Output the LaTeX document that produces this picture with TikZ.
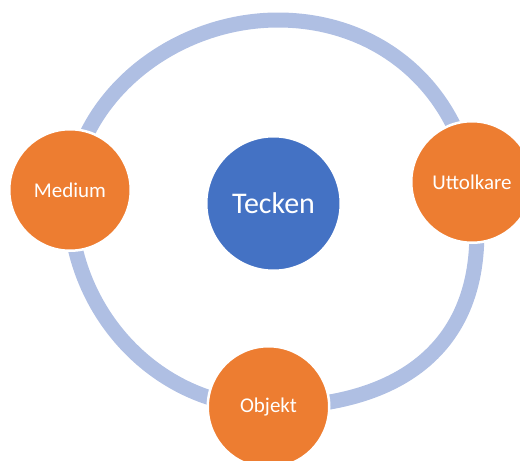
\documentclass[tikz,border=0pt]{standalone}
\usepackage{fontspec}
\setmainfont{Carlito}
\usetikzlibrary{backgrounds}
\definecolor{ringblue}{HTML}{AFBFE3}
\definecolor{accentorange}{HTML}{ED7D31}
\definecolor{accentblue}{HTML}{4472C4}
\begin{document}
\begin{tikzpicture}[x=1pt,y=1pt,
  outer/.style={circle, fill=accentorange, draw=white, line width=2.5pt,
    minimum size=121.5pt, inner sep=0pt, text=white,
    font=\fontsize{21}{24}\selectfont},
  hub/.style={circle, fill=accentblue, draw=white, line width=2.5pt,
    minimum size=134.5pt, inner sep=0pt, text=white,
    font=\fontsize{30}{34}\selectfont},
  ring/.style={draw=ringblue, line width=15pt}]
\useasboundingbox (0,0) rectangle (520,-461);

% centre and the three surrounding circles
\node[hub]   (tecken)    at (273.5,-203.5) {Tecken};
\node[outer] (medium)    at (70,-190)      {Medium};
\node[outer] (uttolkare) at (472,-182)     {Uttolkare};
\node[outer] (objekt)    at (268.5,-407)   {Objekt};
\coordinate (ringtop) at (278,-20);

% ring segments linking the outer circles
\begin{scope}[on background layer]
  \draw[ring] (medium.center) to[out=83,in=180,looseness=0.95] (ringtop)
              to[out=0,in=100] (uttolkare.center);
  \draw[ring] (uttolkare.center) to[out=-80,in=0,looseness=1.26] (objekt.center);
  \draw[ring] (medium.center) to[out=-93,in=180] (objekt.center);
\end{scope}
\end{tikzpicture}
\end{document}
